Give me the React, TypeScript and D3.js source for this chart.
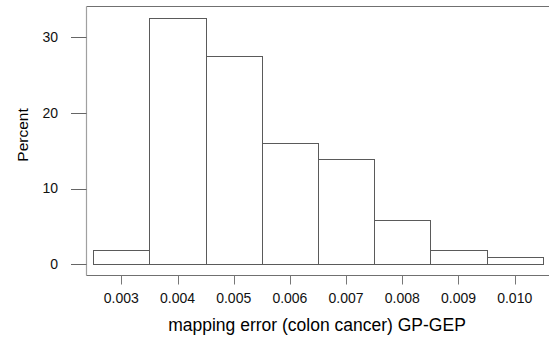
import React from "react";
import * as d3 from "d3";

const binStarts = [0.0025, 0.0035, 0.0045, 0.0055, 0.0065, 0.0075, 0.0085, 0.0095];
const binWidth = 0.001;
const percents = [1.85, 32.47, 27.53, 16.05, 13.86, 5.81, 1.85, 0.92];
const xTicks = [0.003, 0.004, 0.005, 0.006, 0.007, 0.008, 0.009, 0.01];
const xTickLabels = ["0.003", "0.004", "0.005", "0.006", "0.007", "0.008", "0.009", "0.010"];
const yTicks = [0, 10, 20, 30];

export default function App() {
  const x = d3.scaleLinear().domain([0.003, 0.01]).range([121.3, 514.7]);
  const y = d3.scaleLinear().domain([0, 30]).range([264.3, 37]);
  const font = "'Liberation Sans', Arial, sans-serif";
  const left = 86.5, top = 6.5, bottom = 275.5, right = 549;
  return (
    <svg width={549} height={337} style={{ position: "absolute", left: 0, top: 0 }}>
      <rect width={549} height={337} fill="#fff" />
      {/* frame */}
      <line x1={left} y1={top} x2={right} y2={top} stroke="#707070" strokeWidth={1.2} />
      <line x1={left} y1={top} x2={left} y2={bottom} stroke="#a0a0a0" strokeWidth={1.2} />
      <line x1={left} y1={bottom} x2={right} y2={bottom} stroke="#707070" strokeWidth={1.2} />
      {/* bars */}
      {binStarts.map((b, i) => {
        const x0 = Math.round(x(b)) + 0.5;
        const x1 = Math.round(x(b + binWidth)) + 0.5;
        const yt = Math.round(y(percents[i])) + 0.5;
        const y0 = Math.round(y(0)) + 0.5;
        return (
          <rect key={i} x={x0} y={yt} width={x1 - x0} height={y0 - yt}
            fill="#fff" stroke="#5a5a5a" strokeWidth={1} />
        );
      })}
      {/* y axis ticks */}
      {yTicks.map((t) => (
        <g key={t}>
          <line x1={71} x2={left} y1={Math.round(y(t)) + 0.5} y2={Math.round(y(t)) + 0.5} stroke="#666" strokeWidth={1} />
          <text x={58} y={y(t)} dy="0.35em" textAnchor="end" fontFamily={font} fontSize={14} fill="#111">{t}</text>
        </g>
      ))}
      {/* x axis ticks */}
      {xTicks.map((t, i) => (
        <g key={t}>
          <line x1={Math.round(x(t)) + 0.5} x2={Math.round(x(t)) + 0.5} y1={bottom} y2={284.5} stroke="#777" strokeWidth={1} />
          <text x={x(t)} y={303} textAnchor="middle" fontFamily={font} fontSize={14} fill="#111">{xTickLabels[i]}</text>
        </g>
      ))}
      <text x={317} y={330.5} textAnchor="middle" fontFamily={font} fontSize={17.5} fill="#000">mapping error (colon cancer) GP-GEP</text>
      <text transform="translate(28,135) rotate(-90)" textAnchor="middle" fontFamily={font} fontSize={15.5} fill="#000">Percent</text>
    </svg>
  );
}
